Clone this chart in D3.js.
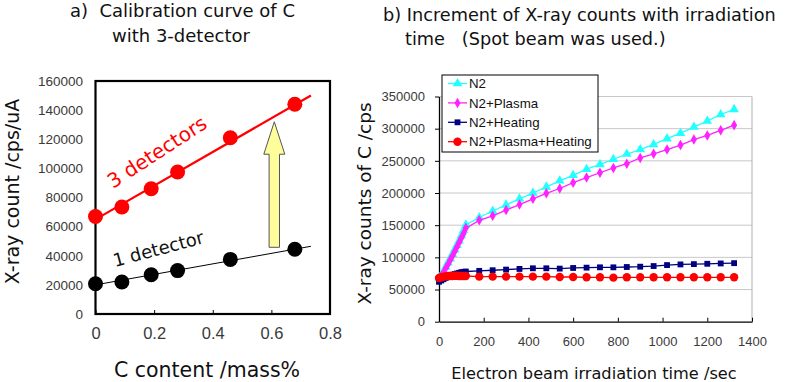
<!DOCTYPE html>
<html>
<head>
<meta charset="utf-8">
<script src="https://cdn.jsdelivr.net/npm/d3@7"></script>
<style>
  body { margin: 0; background: #fff; }
  svg { display: block; }
  .tick text { font-family: "Liberation Sans", Arial, sans-serif; fill: #3a3a3a; }
  .lbl { font-family: "DejaVu Sans", sans-serif; fill: #111; white-space: pre; }
</style>
</head>
<body>
<div id="container"></div>
<script>
// ---- a) calibration data ----
let cContent = [0, 0.09, 0.19, 0.28, 0.46, 0.68];
let threeDet = [67000, 73500, 86000, 97500, 121000, 144000];
let oneDet = [20800, 22000, 27000, 29800, 37500, 44500];
let fitX = [0, 0.735];
let fitThree = [65000, 150000];
let fitOne = [20000, 46500];
let aYTicks = [0, 20000, 40000, 60000, 80000, 100000, 120000, 140000, 160000];
let aXTicks = [0, 0.2, 0.4, 0.6, 0.8];

// ---- b) irradiation data ----
let times = [0, 10, 20, 30, 40, 50, 60, 70, 80, 90, 100, 110, 120,
  180, 240, 300, 360, 420, 480, 540, 600, 660, 720, 780, 840, 900, 960, 1020, 1080, 1140, 1200, 1260, 1320];
let n2 = [68000, 72000, 78000, 85000, 92000, 98000, 105000, 112000, 119000, 126000, 134000, 142000, 150500,
  162000, 172000, 181500, 191000, 200000, 209500, 219000, 227500, 237000, 244500, 252500, 260500, 267500, 275500, 284500, 293000, 302500, 312000, 322000, 330000];
let n2Plasma = [67000, 71000, 76000, 83000, 89000, 96000, 102000, 109000, 116000, 123000, 130000, 137000, 145500,
  157500, 164500, 173500, 182000, 191000, 199500, 207000, 216000, 224000, 231500, 239000, 245500, 254500, 261000, 267500, 274500, 283000, 289500, 297500, 305500];
let n2Heating = [62000, 64000, 66000, 68000, 70000, 72000, 73000, 74000, 75000, 76000, 77000, 77500, 78000,
  79000, 80000, 81000, 82000, 83000, 83000, 82500, 83500, 84000, 84500, 84500, 85000, 85500, 86500, 88000, 89000, 89500, 90000, 90500, 91000];
let n2PlasmaHeating = [68000, 69000, 70000, 70500, 71000, 71000, 71000, 71500, 71500, 71000, 71000, 71000, 71000,
  70000, 70000, 70000, 70000, 70000, 70000, 69500, 69500, 69000, 69000, 68500, 69000, 69000, 69000, 69000, 69000, 69000, 69000, 69000, 69000];
let seriesNames = ["N2", "N2+Plasma", "N2+Heating", "N2+Plasma+Heating"];
let seriesColors = ["#22ffff", "#ff22ff", "#000080", "#ff0000"];
let bYTicks = [0, 50000, 100000, 150000, 200000, 250000, 300000, 350000];
let bXTicks = [0, 200, 400, 600, 800, 1000, 1200, 1400];

let w = 787, h = 382;

let svg = d3.select("#container")
  .append("svg")
  .attr("width", w)
  .attr("height", h);

// ================= chart a =================
let xA = d3.scaleLinear().domain([0, 0.8]).range([95.5, 330]);
let yA = d3.scaleLinear().domain([0, 160000]).range([314, 81]);

let gA = svg.append("g");

gA.append("text").attr("class", "lbl")
  .attr("x", 70).attr("y", 17)
  .style("font-size", "18px")
  .text("a)  Calibration curve of C");
gA.append("text").attr("class", "lbl")
  .attr("x", 112).attr("y", 42)
  .style("font-size", "18px")
  .text("with 3-detector");

gA.append("g")
  .attr("transform", "translate(0,314)")
  .call(d3.axisBottom(xA).tickValues(aXTicks).tickSize(-4).tickPadding(13).tickFormat(d3.format("")))
  .call(g => g.select(".domain").remove())
  .call(g => g.selectAll("text").style("font-size", "16.5px"));

gA.append("g")
  .attr("transform", "translate(95.5,0)")
  .call(d3.axisLeft(yA).tickValues(aYTicks).tickSize(0).tickPadding(12.5).tickFormat(d3.format("d")))
  .call(g => g.select(".domain").remove())
  .call(g => g.selectAll("text").style("font-size", "13.5px"));

gA.append("rect")
  .attr("x", xA(0)).attr("y", yA(160000))
  .attr("width", xA(0.8) - xA(0)).attr("height", yA(0) - yA(160000))
  .attr("fill", "none").attr("stroke", "#000").attr("stroke-width", 2.2);

// fit lines
let lineA = d3.line().x(d => xA(d[0])).y(d => yA(d[1]));
gA.append("path")
  .attr("d", lineA(fitX.map((x, i) => [x, fitOne[i]])))
  .attr("stroke", "#000").attr("stroke-width", 1).attr("fill", "none");
gA.append("path")
  .attr("d", lineA(fitX.map((x, i) => [x, fitThree[i]])))
  .attr("stroke", "#ff0000").attr("stroke-width", 2.2).attr("fill", "none");

gA.selectAll(".one").data(cContent).enter()
  .append("circle")
  .attr("cx", d => xA(d))
  .attr("cy", (d, i) => yA(oneDet[i]))
  .attr("r", 7.5)
  .attr("fill", "#000");

gA.selectAll(".three").data(cContent).enter()
  .append("circle")
  .attr("cx", d => xA(d))
  .attr("cy", (d, i) => yA(threeDet[i]))
  .attr("r", 7.5)
  .attr("fill", "#ff0000");

// yellow arrow
let ax = xA(0.61);
let tipY = yA(132000), headY = yA(109700), baseY = yA(45800);
gA.append("path")
  .attr("d", `M${ax},${tipY} L${ax + 10.5},${headY} L${ax + 5.2},${headY} L${ax + 5.2},${baseY} L${ax - 5.2},${baseY} L${ax - 5.2},${headY} L${ax - 10.5},${headY} Z`)
  .attr("fill", "#fdfd9c").attr("stroke", "#555").attr("stroke-width", 1);

gA.append("text").attr("class", "lbl")
  .attr("transform", "translate(113,189) rotate(-33)")
  .style("font-size", "20px").style("fill", "#ff0000")
  .text("3 detectors");
gA.append("text").attr("class", "lbl")
  .attr("transform", "translate(115,267) rotate(-15)")
  .style("font-size", "18px")
  .text("1 detector");

gA.append("text").attr("class", "lbl")
  .attr("transform", "translate(18.5,191.5) rotate(-90)")
  .attr("text-anchor", "middle")
  .style("font-size", "19px")
  .text("X-ray count /cps/uA");
gA.append("text").attr("class", "lbl")
  .attr("x", 207).attr("y", 377)
  .attr("text-anchor", "middle")
  .style("font-size", "20.5px")
  .text("C content /mass%");

// ================= chart b =================
let xB = d3.scaleLinear().domain([0, 1400]).range([439, 752]);
let yB = d3.scaleLinear().domain([0, 350000]).range([321.7, 96.5]);

let gB = svg.append("g");

gB.append("text").attr("class", "lbl")
  .attr("x", 383).attr("y", 20.5)
  .style("font-size", "17.7px")
  .text("b) Increment of X-ray counts with irradiation");
gB.append("text").attr("class", "lbl")
  .attr("x", 405).attr("y", 45)
  .style("font-size", "17.7px")
  .text("time   (Spot beam was used.)");

// grid
gB.selectAll(".grid").data(bYTicks.slice(1)).enter()
  .append("line")
  .attr("x1", xB(0)).attr("x2", xB(1400))
  .attr("y1", d => yB(d)).attr("y2", d => yB(d))
  .attr("stroke", "#c8c8c8").attr("stroke-width", 1);
gB.append("line")
  .attr("x1", xB(1400)).attr("x2", xB(1400))
  .attr("y1", yB(0)).attr("y2", yB(350000))
  .attr("stroke", "#b0b0b0").attr("stroke-width", 1);

gB.append("g")
  .attr("transform", `translate(0,${yB(0)})`)
  .call(d3.axisBottom(xB).tickValues(bXTicks).tickSize(-4).tickSizeOuter(0).tickPadding(15).tickFormat(d3.format("d")))
  .call(g => g.select(".domain").attr("stroke-width", 1.3))
  .call(g => g.selectAll("text").style("font-size", "13px"));

gB.append("g")
  .attr("transform", `translate(${xB(0)},0)`)
  .call(d3.axisLeft(yB).tickValues(bYTicks).tickSize(4).tickSizeOuter(0).tickPadding(10).tickFormat(d3.format("d")))
  .call(g => g.select(".domain").attr("stroke-width", 1.3))
  .call(g => g.selectAll("text").style("font-size", "13px"));

let seriesVals = [n2, n2Plasma, n2Heating, n2PlasmaHeating];
let symbols = [d3.symbolTriangle, d3.symbolDiamond, d3.symbolSquare, d3.symbolCircle];
let symSizes = [40, 32, 34, 55];

let lineB = d3.line().x((d, i) => xB(times[i])).y(d => yB(d));

seriesVals.forEach((vals, k) => {
  gB.append("path")
    .attr("d", lineB(vals))
    .attr("stroke", seriesColors[k]).attr("stroke-width", 1.3).attr("fill", "none");
  gB.selectAll(".m" + k).data(vals).enter()
    .append("path")
    .attr("transform", (d, i) => `translate(${xB(times[i])},${yB(d)})`)
    .attr("d", d3.symbol().type(symbols[k]).size(symSizes[k]))
    .attr("fill", seriesColors[k]);
});

// legend
let leg = gB.append("g");
leg.append("rect")
  .attr("x", 442).attr("y", 75).attr("width", 156).attr("height", 77)
  .attr("fill", "#fff").attr("stroke", "#000").attr("stroke-width", 1);
seriesNames.forEach((name, k) => {
  let ly = 83.5 + k * 19.4;
  leg.append("line")
    .attr("x1", 448).attr("x2", 467).attr("y1", ly).attr("y2", ly)
    .attr("stroke", seriesColors[k]).attr("stroke-width", 1.3);
  leg.append("path")
    .attr("transform", `translate(457.5,${ly})`)
    .attr("d", d3.symbol().type(symbols[k]).size(symSizes[k]))
    .attr("fill", seriesColors[k]);
  leg.append("text")
    .attr("x", 469).attr("y", ly)
    .attr("dy", "0.35em")
    .style("font-family", "Liberation Sans, Arial, sans-serif")
    .style("font-size", "13.3px").style("fill", "#111")
    .text(name);
});

gB.append("text").attr("class", "lbl")
  .attr("transform", "translate(371,203.5) rotate(-90)")
  .attr("text-anchor", "middle")
  .style("font-size", "18.5px")
  .text("X-ray counts of C /cps");
gB.append("text").attr("class", "lbl")
  .attr("x", 594).attr("y", 378.5)
  .attr("text-anchor", "middle")
  .style("font-size", "16.2px")
  .text("Electron beam irradiation time /sec");
</script>
</body>
</html>
